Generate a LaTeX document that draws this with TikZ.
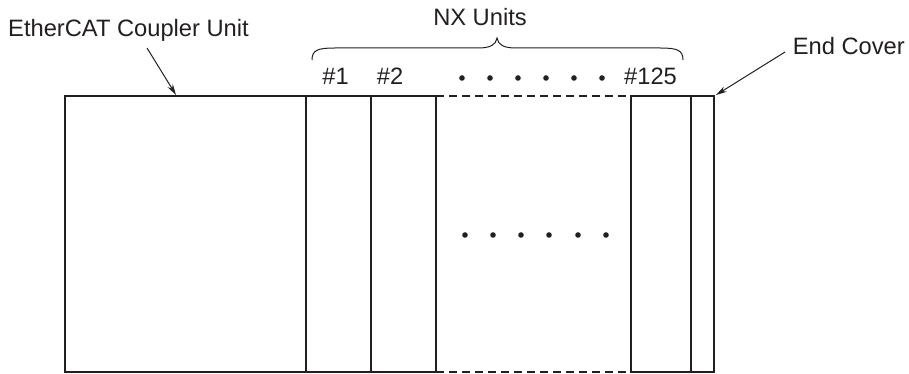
\documentclass[tikz,border=0pt]{standalone}
\usepackage{fontspec}
\setmainfont{Liberation Sans}
\usetikzlibrary{arrows.meta}
\definecolor{ink}{HTML}{231F20}
\begin{document}
\begin{tikzpicture}[x=1pt,y=-1pt, color=ink,
  unit/.style={draw=ink, line width=1.9pt, inner sep=0pt, outer sep=0pt, minimum height=276pt, anchor=north west},
  gapline/.style={line width=1.9pt, dash pattern=on 8pt off 5pt},
  lbl/.style={font=\fontsize{23.7}{28}\selectfont, inner sep=0pt, text=ink},
  arr/.style={-{Stealth[length=11pt,width=6pt]}, line width=1pt},
  dotmark/.style={fill=ink, draw=none}]
\useasboundingbox (0,0) rectangle (909,374);
% units
\node[unit, minimum width=241pt] (cpl) at (65,96) {};
\node[unit, minimum width=65pt] (u1) at (306,96) {};
\node[unit, minimum width=65pt] (u2) at (371,96) {};
\node[unit, minimum width=60pt] (u125) at (631,96) {};
\node[unit, minimum width=23pt] (endc) at (691,96) {};
\draw[gapline] (u2.north east) -- (u125.north west);
\draw[gapline] (u2.south east) -- (u125.south west);
% labels
\node[lbl, anchor=base west] (ecu) at (8,37) {EtherCAT Coupler Unit};
\node[lbl, anchor=base] (nx) at (480,26) {NX Units};
\node[lbl, anchor=base east] (ec) at (905,55) {End Cover};
\node[lbl, anchor=base] (n1) at (335.5,85) {\#1};
\node[lbl, anchor=base] (n2) at (390,85) {\#2};
\node[lbl, anchor=base] (n125) at (650.5,85) {\#125};
% arrows
\coordinate (a1) at (147,48);
\coordinate (cpltop) at (176,95);
\draw[arr] (a1) -- (cpltop);
\coordinate (a2) at (785,52);
\coordinate (endtop) at (716,95);
\draw[arr] (a2) -- (endtop);
% brace
\draw[line width=1pt] (312,60) .. controls (312,50) and (318,48) .. (335,48)
  -- (478,48) .. controls (490,48) and (496,45) .. (497,38)
  .. controls (498,45) and (504,48) .. (516,48)
  -- (660,48) .. controls (677,48) and (683,50) .. (683,60);
% dots
\foreach \x in {462,490,518,546,574,602} \fill[dotmark] (\x,78) circle (2.8pt);
\foreach \x in {465,493,521,549,578,606} \fill[dotmark] (\x,235) circle (2.8pt);
\end{tikzpicture}
\end{document}
